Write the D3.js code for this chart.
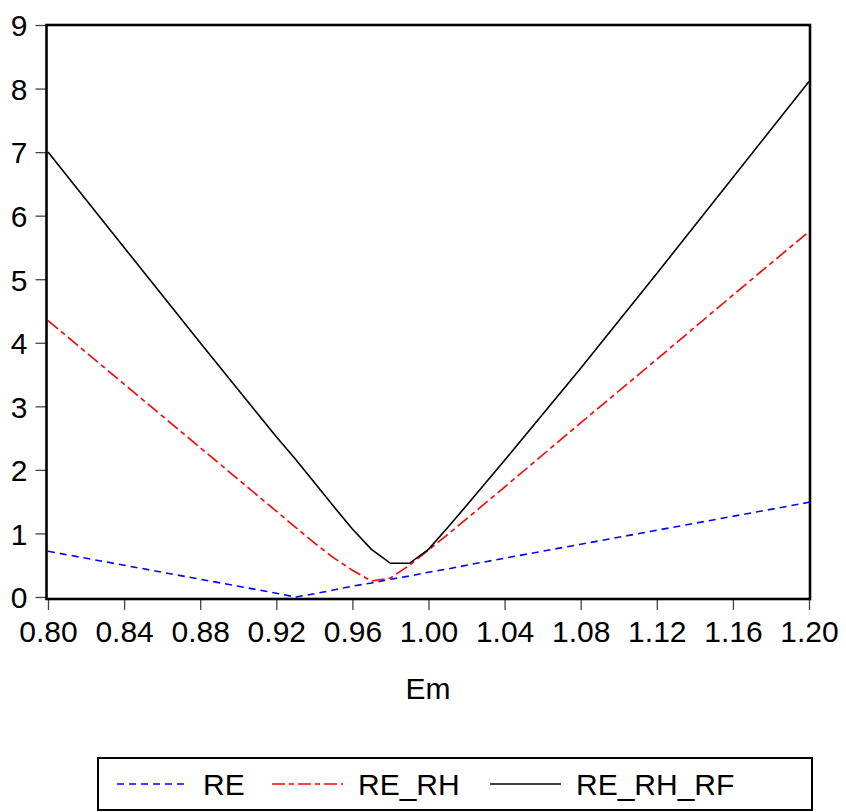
<!DOCTYPE html>
<html>
<head>
<meta charset="utf-8">
<script src="https://cdn.jsdelivr.net/npm/d3@7"></script>
<style>
body{margin:0;background:#fff;}
svg text{font-family:"Liberation Sans",Arial,sans-serif;fill:#000;}
</style>
</head>
<body>
<svg id="chart" width="846" height="812"></svg>
<script>
var em = [0.80,0.84,0.88,0.92,0.93,0.94,0.95,0.96,0.97,0.98,0.99,1.00,1.01,1.02,1.04,1.08,1.12,1.16,1.20];
var re = [0.72,0.50,0.28,0.06,0.00,0.05,0.11,0.17,0.22,0.28,0.33,0.39,0.44,0.50,0.61,0.83,1.05,1.27,1.49];
var reRh = [4.35,3.35,2.35,1.35,1.10,0.85,0.62,0.42,0.25,0.30,0.50,0.74,0.98,1.23,1.73,2.74,3.74,4.75,5.75];
var reRhRf = [7.00,5.50,4.00,2.52,2.17,1.80,1.43,1.07,0.75,0.53,0.53,0.75,1.09,1.44,2.15,3.60,5.09,6.60,8.11];

var xTicks = [0.80,0.84,0.88,0.92,0.96,1.00,1.04,1.08,1.12,1.16,1.20];
var yTicks = [0,1,2,3,4,5,6,7,8,9];

var svg = d3.select("#chart");

var x = d3.scaleLinear().domain([0.8,1.2]).range([48,809]);
var y = d3.scaleLinear().domain([0,9]).range([597,25]);

var series = [
	{name:"RE", values:re, color:"#0000ff", dash:"7,5"},
	{name:"RE_RH", values:reRh, color:"#ff0000", dash:"13,4,5,4"},
	{name:"RE_RH_RF", values:reRhRf, color:"#000000", dash:null}
];

var line = d3.line()
	.x(function(d,i){ return x(em[i]); })
	.y(function(d){ return y(d); });

series.forEach(function(s){
	svg.append("path")
	.attr("d",line(s.values))
	.attr("fill","none")
	.attr("stroke",s.color)
	.attr("stroke-width",1.6)
	.attr("stroke-dasharray",s.dash);
});

// axes
var xAxis = d3.axisBottom(x).tickValues(xTicks).tickSize(11).tickPadding(10)
	.tickFormat(d3.format(".2f"));
var gx = svg.append("g").attr("transform","translate(0,599)").call(xAxis);
gx.select(".domain").remove();
gx.selectAll("line").attr("stroke","#444").attr("stroke-width",1.3);
gx.selectAll("text").attr("font-size",30).attr("dy","0.72em");

var yAxis = d3.axisLeft(y).tickValues(yTicks).tickSize(11).tickPadding(8);
var gy = svg.append("g").attr("transform","translate(46.5,0)").call(yAxis);
gy.select(".domain").remove();
gy.selectAll("line").attr("stroke","#444").attr("stroke-width",1.3);
gy.selectAll("text").attr("font-size",30).attr("dy","0.36em");

// frame
svg.append("rect")
.attr("x",46.5).attr("y",25)
.attr("width",810-46.5).attr("height",599-25)
.attr("fill","none").attr("stroke","#000").attr("stroke-width",2.6);

svg.append("text")
.attr("x",428).attr("y",699)
.attr("text-anchor","middle")
.attr("font-size",30)
.text("Em");

// legend
var legend = svg.append("g");
legend.append("rect")
.attr("x",98).attr("y",758)
.attr("width",714).attr("height",52)
.attr("fill","#fff").attr("stroke","#000").attr("stroke-width",2);

var legX = [117,272,490];
series.forEach(function(s,i){
	legend.append("line")
	.attr("x1",legX[i]).attr("x2",legX[i]+71)
	.attr("y1",784).attr("y2",784)
	.attr("stroke",s.color).attr("stroke-width",1.6)
	.attr("stroke-dasharray",s.dash);
	legend.append("text")
	.attr("x",legX[i]+86).attr("y",795)
	.attr("font-size",30)
	.text(s.name);
});
</script>
</body>
</html>
